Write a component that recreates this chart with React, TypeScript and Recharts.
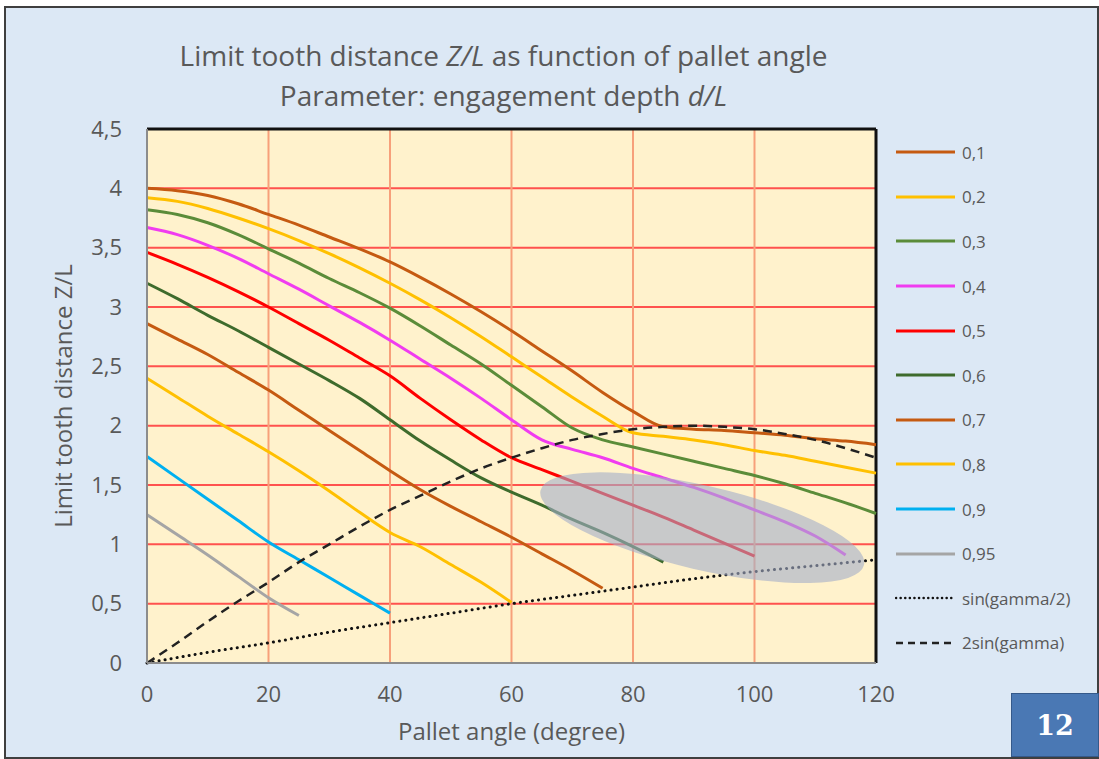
import React from "react";
import {
  CartesianGrid,
  Line,
  LineChart,
  ReferenceDot,
  ReferenceLine,
  XAxis,
  YAxis,
} from "recharts";

const FONT = "'Open Sans', Lato, sans-serif";
const TEXT = "#595959";

// pallet angle in degrees
const ANGLES_5 = [0, 5, 10, 15, 20, 25, 30, 35, 40, 45, 50, 55, 60, 65, 70, 75, 80, 85, 90, 95, 100, 105, 110, 115, 120];
const ANGLES_10 = [0, 10, 20, 30, 40, 50, 60, 70, 80, 90, 100, 110, 120];

const X_TICKS = [0, 20, 40, 60, 80, 100, 120];
const Y_TICKS = [0, 0.5, 1, 1.5, 2, 2.5, 3, 3.5, 4, 4.5];

// limit tooth distance Z/L, one array per engagement depth d/L
const D_01 = [4.0, 3.98, 3.94, 3.87, 3.78, 3.69, 3.59, 3.49, 3.38, 3.25, 3.11, 2.96, 2.8, 2.63, 2.46, 2.28, 2.12, 1.99, 1.97, 1.96, 1.94, 1.92, 1.89, 1.87, 1.84];
const D_02 = [3.92, 3.89, 3.83, 3.75, 3.66, 3.56, 3.45, 3.33, 3.2, 3.06, 2.91, 2.75, 2.58, 2.41, 2.24, 2.08, 1.94, 1.91, 1.88, 1.84, 1.79, 1.75, 1.7, 1.65, 1.6];
const D_03 = [3.82, 3.78, 3.71, 3.61, 3.49, 3.37, 3.24, 3.12, 2.99, 2.84, 2.68, 2.52, 2.34, 2.16, 1.98, 1.88, 1.82, 1.76, 1.7, 1.64, 1.58, 1.51, 1.43, 1.35, 1.26];
const D_04 = [3.67, 3.61, 3.52, 3.41, 3.28, 3.15, 3.01, 2.87, 2.72, 2.56, 2.4, 2.23, 2.05, 1.88, 1.8, 1.73, 1.64, 1.56, 1.48, 1.39, 1.29, 1.19, 1.07, 0.91];
const D_05 = [3.46, 3.36, 3.25, 3.13, 3.0, 2.86, 2.72, 2.57, 2.42, 2.23, 2.05, 1.88, 1.73, 1.63, 1.53, 1.43, 1.33, 1.23, 1.12, 1.01, 0.9];
const D_06 = [3.2, 3.07, 2.93, 2.8, 2.66, 2.52, 2.38, 2.23, 2.05, 1.87, 1.71, 1.56, 1.44, 1.33, 1.21, 1.1, 0.98, 0.85];
const D_07 = [2.86, 2.73, 2.6, 2.45, 2.3, 2.13, 1.96, 1.79, 1.62, 1.46, 1.32, 1.19, 1.06, 0.92, 0.78, 0.63];
const D_08 = [2.4, 2.24, 2.08, 1.93, 1.78, 1.62, 1.45, 1.27, 1.1, 0.98, 0.83, 0.68, 0.51];
const D_09 = [1.74, 1.56, 1.38, 1.2, 1.02, 0.87, 0.72, 0.57, 0.42];
const D_095 = [1.25, 1.08, 0.91, 0.73, 0.55, 0.4];

const SIN_HALF = [0, 0.09, 0.17, 0.26, 0.34, 0.42, 0.5, 0.57, 0.64, 0.71, 0.77, 0.82, 0.87];
const TWO_SIN = [0, 0.17, 0.35, 0.52, 0.68, 0.85, 1.0, 1.15, 1.29, 1.41, 1.53, 1.64, 1.73, 1.81, 1.88, 1.93, 1.97, 1.99, 2.0, 1.99, 1.97, 1.93, 1.88, 1.81, 1.73];

// shaded region of interest (centre in data units)
const HIGHLIGHT = { x: 91.4, y: 1.14 };

const toPoints = (xs: number[], ys: number[]) => ys.map((y, i) => ({ x: xs[i], y }));

type Series = { name: string; color: string; xs: number[]; ys: number[]; dash?: string; width?: number };

const SERIES: Series[] = [
  { name: "0,1", color: "#c55a11", xs: ANGLES_5, ys: D_01 },
  { name: "0,2", color: "#ffc000", xs: ANGLES_5, ys: D_02 },
  { name: "0,3", color: "#5b8c39", xs: ANGLES_5, ys: D_03 },
  { name: "0,4", color: "#f03cf0", xs: ANGLES_5, ys: D_04 },
  { name: "0,5", color: "#ff0000", xs: ANGLES_5, ys: D_05 },
  { name: "0,6", color: "#3e6b2c", xs: ANGLES_5, ys: D_06 },
  { name: "0,7", color: "#c55a11", xs: ANGLES_5, ys: D_07 },
  { name: "0,8", color: "#ffc000", xs: ANGLES_5, ys: D_08 },
  { name: "0,9", color: "#00b0f0", xs: ANGLES_5, ys: D_09 },
  { name: "0,95", color: "#a5a5a5", xs: ANGLES_5, ys: D_095 },
  { name: "sin(gamma/2)", color: "#111", xs: ANGLES_10, ys: SIN_HALF, dash: "0.1 6", width: 3 },
  { name: "2sin(gamma)", color: "#222", xs: ANGLES_5, ys: TWO_SIN, dash: "9 6", width: 2.5 },
];

const fmt = (v: number) => String(v).replace(".", ",");

const HighlightShape = (props: any) => {
  const { cx, cy } = props;
  if (cx == null || cy == null) return null;
  return (
    <ellipse
      cx={cx}
      cy={cy}
      rx={166}
      ry={42}
      transform={`rotate(13 ${cx} ${cy})`}
      fill="#a4aec8"
      fillOpacity={0.6}
    />
  );
};

function LegendBox() {
  return (
    <div style={{ position: "absolute", left: 895, top: 130, fontFamily: FONT, fontSize: 17, color: TEXT }}>
      {SERIES.map((s) => (
        <div key={s.name} style={{ height: 44.6, display: "flex", alignItems: "center" }}>
          <svg width={62} height={10}>
            <line
              x1={1}
              x2={60}
              y1={5}
              y2={5}
              stroke={s.color}
              strokeWidth={s.dash ? 2.5 : 3}
              strokeDasharray={s.dash === "0.1 6" ? "0.1 4.5" : s.dash ? "7 5" : undefined}
              strokeLinecap={s.dash === "0.1 6" ? "round" : "butt"}
            />
          </svg>
          <span style={{ marginLeft: 5 }}>{s.name}</span>
        </div>
      ))}
    </div>
  );
}

export default function App() {
  return (
    <div style={{ position: "absolute", left: 0, top: 0, width: 1099, height: 759, background: "#fff" }}>
      <div
        style={{
          position: "absolute",
          left: 4,
          top: 6,
          width: 1095,
          height: 753,
          boxSizing: "border-box",
          border: "2px solid #3f3f3f",
          background: "#dce8f5",
        }}
      />
      <div
        style={{
          position: "absolute",
          left: 0,
          width: 1007,
          top: 35,
          textAlign: "center",
          fontFamily: FONT,
          fontSize: 28,
          lineHeight: "40px",
          color: TEXT,
        }}
      >
        <div>
          Limit tooth distance <i>Z/L</i> as function of pallet angle
        </div>
        <div>
          Parameter: engagement depth <i>d/L</i>
        </div>
      </div>
      <div style={{ position: "absolute", left: 0, top: 0 }}>
        <LineChart width={1099} height={759} margin={{ top: 129, right: 223, bottom: 0, left: 0 }}>
          <CartesianGrid
            fill="#fff2cc"
            vertical={false}
            stroke="#ff4040"
            strokeWidth={2}
            strokeOpacity={0.9}
            horizontalValues={Y_TICKS.filter((v) => v > 0 && v < 4.5)}
          />
          <CartesianGrid
            horizontal={false}
            stroke="#f7a07a"
            strokeWidth={2}
            verticalValues={X_TICKS.filter((v) => v > 0 && v < 120)}
          />
          <XAxis
            dataKey="x"
            type="number"
            domain={[0, 120]}
            ticks={X_TICKS}
            height={96}
            tickSize={0}
            tickMargin={23}
            axisLine={{ stroke: "#8c8c8c", strokeWidth: 2 }}
            tick={{ fill: TEXT, fontSize: 22, fontFamily: FONT }}
            label={{
              value: "Pallet angle (degree)",
              position: "insideBottom",
              offset: 19,
              fill: TEXT,
              fontSize: 24,
              fontFamily: FONT,
            }}
          />
          <YAxis
            type="number"
            domain={[0, 4.5]}
            ticks={Y_TICKS}
            width={147}
            tickSize={0}
            tickMargin={25}
            tickFormatter={fmt}
            axisLine={{ stroke: "#8c8c8c", strokeWidth: 2 }}
            tick={{ fill: TEXT, fontSize: 22, fontFamily: FONT }}
            label={{
              value: "Limit tooth distance Z/L",
              angle: -90,
              position: "center",
              dx: -10,
              fill: TEXT,
              fontSize: 24,
              fontFamily: FONT,
            }}
          />
          <ReferenceLine y={4.5} stroke="#111" strokeWidth={3} />
          <ReferenceLine x={120} stroke="#111" strokeWidth={3} />
          {SERIES.map((s) => (
            <Line
              key={s.name}
              data={toPoints(s.xs, s.ys)}
              dataKey="y"
              name={s.name}
              type="monotone"
              stroke={s.color}
              strokeWidth={s.width ?? 3}
              strokeDasharray={s.dash}
              strokeLinecap={s.dash === "0.1 6" ? "round" : "butt"}
              dot={false}
              activeDot={false}
              isAnimationActive={false}
            />
          ))}
          <ReferenceDot x={HIGHLIGHT.x} y={HIGHLIGHT.y} ifOverflow="visible" shape={HighlightShape} />
        </LineChart>
      </div>
      <LegendBox />
      <div
        style={{
          position: "absolute",
          left: 1011,
          top: 693,
          width: 88,
          height: 64,
          boxSizing: "border-box",
          background: "#4a78b4",
          border: "1px solid #35598a",
          color: "#fff",
          fontFamily: "'DejaVu Serif', 'Liberation Serif', serif",
          fontWeight: "bold",
          fontSize: 27,
          display: "flex",
          alignItems: "center",
          justifyContent: "center",
        }}
      >
        12
      </div>
    </div>
  );
}
